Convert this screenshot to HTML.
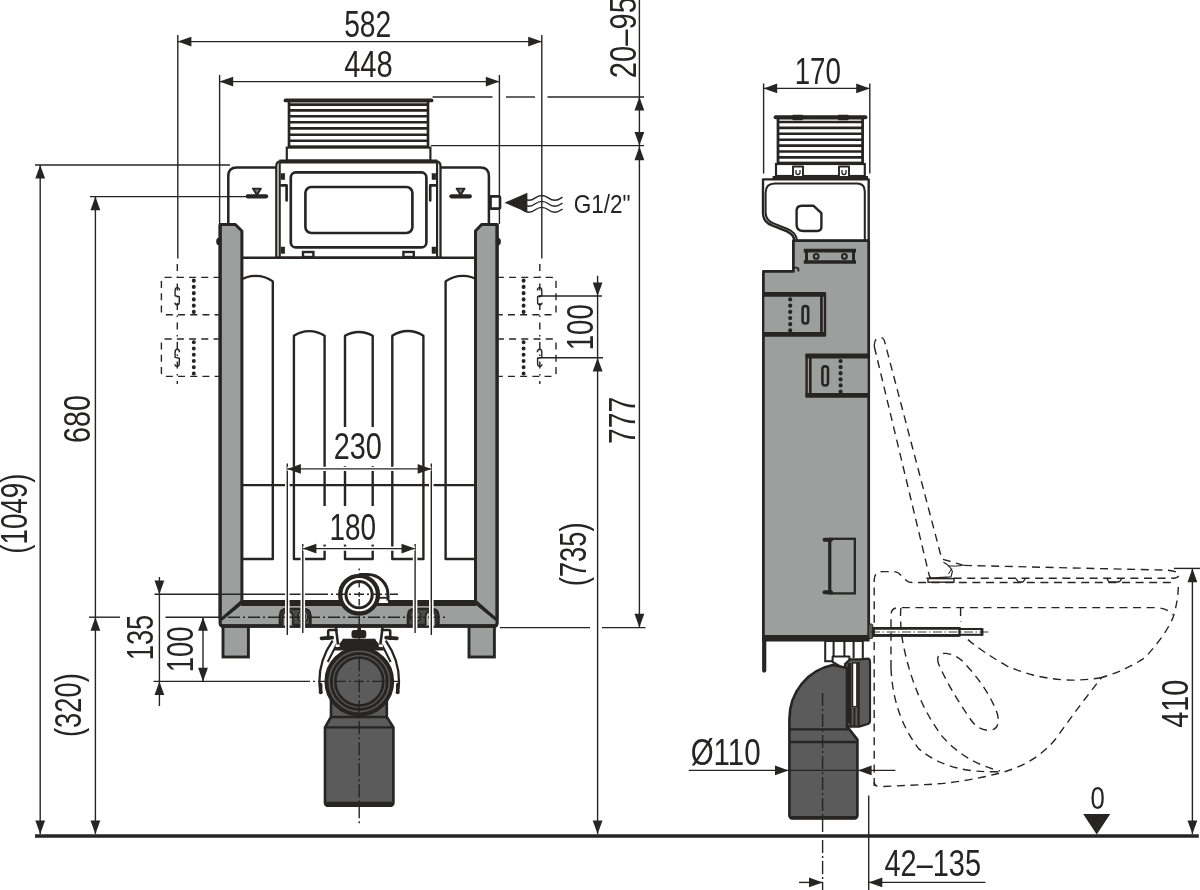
<!DOCTYPE html>
<html><head><meta charset="utf-8"><title>Drawing</title>
<style>
html,body{margin:0;padding:0;background:#fff;}
svg{display:block;will-change:transform;}
text{font-family:"Liberation Sans",sans-serif;}
</style></head><body>
<svg width="1200" height="890" viewBox="0 0 1200 890">
<rect x="0" y="0" width="1200" height="890" fill="#fff"/>
<line x1="35.0" y1="836.1" x2="1198.8" y2="836.1" stroke="#262524" stroke-width="3.50"/>
<g id="front">
<rect x="289.0" y="101.0" width="139.0" height="46.0" fill="#fff" stroke="#262524" stroke-width="2.64"/>
<line x1="289.0" y1="104.6" x2="428.0" y2="104.6" stroke="#262524" stroke-width="2.58"/>
<line x1="289.0" y1="110.4" x2="428.0" y2="110.4" stroke="#262524" stroke-width="2.58"/>
<line x1="289.0" y1="116.3" x2="428.0" y2="116.3" stroke="#262524" stroke-width="2.58"/>
<line x1="289.0" y1="122.2" x2="428.0" y2="122.2" stroke="#262524" stroke-width="2.58"/>
<line x1="289.0" y1="128.4" x2="428.0" y2="128.4" stroke="#262524" stroke-width="2.58"/>
<line x1="289.0" y1="134.8" x2="428.0" y2="134.8" stroke="#262524" stroke-width="2.58"/>
<line x1="289.0" y1="140.8" x2="428.0" y2="140.8" stroke="#262524" stroke-width="2.58"/>
<line x1="289.0" y1="146.8" x2="428.0" y2="146.8" stroke="#262524" stroke-width="2.58"/>
<line x1="285.5" y1="100.4" x2="431.5" y2="100.4" stroke="#262524" stroke-width="3.84" stroke-linecap="round"/>
<rect x="286.8" y="147.6" width="143.6" height="13.0" fill="#fff" stroke="#262524" stroke-width="2.16"/>
<path d="M228.3,225 V176 Q228.3,167.5 236.8,167.5 H480.4 Q488.9,167.5 488.9,176 V225" fill="none" stroke="#262524" stroke-width="2.52" stroke-linejoin="round" />
<path d="M276.3,257.6 V166 Q276.3,161.4 281,161.4 H435.8 Q440.5,161.4 440.5,166 V257.6 Z" fill="#fff" stroke="#262524" stroke-width="2.28" stroke-linejoin="round" />
<line x1="279.4" y1="161.4" x2="437.4" y2="161.4" stroke="#262524" stroke-width="3.96"/>
<line x1="279.7" y1="163.0" x2="279.7" y2="257.0" stroke="#262524" stroke-width="2.16"/>
<line x1="437.1" y1="163.0" x2="437.1" y2="257.0" stroke="#262524" stroke-width="2.16"/>
<rect x="290.8" y="172.4" width="135.6" height="75.0" fill="#fff" stroke="#262524" stroke-width="2.64" rx="5.0"/>
<rect x="305.4" y="187.0" width="107.0" height="46.0" fill="#fff" stroke="#262524" stroke-width="2.64" rx="6.0"/>
<rect x="281.0" y="173.6" width="3.8" height="6.0" fill="#262524" stroke="#262524" stroke-width="0.50"/>
<rect x="281.0" y="247.0" width="3.8" height="6.4" fill="#262524" stroke="#262524" stroke-width="0.50"/>
<rect x="432.0" y="173.6" width="3.8" height="6.0" fill="#262524" stroke="#262524" stroke-width="0.50"/>
<rect x="432.0" y="247.0" width="3.8" height="6.4" fill="#262524" stroke="#262524" stroke-width="0.50"/>
<path d="M281.4,185.4 H286.6 V200.4" fill="none" stroke="#262524" stroke-width="2.64" stroke-linejoin="round" stroke-linecap="round"/>
<path d="M435.4,185.4 H430.2 V200.4" fill="none" stroke="#262524" stroke-width="2.64" stroke-linejoin="round" stroke-linecap="round"/>
<rect x="303.0" y="252.0" width="10.4" height="5.0" fill="#fff" stroke="#262524" stroke-width="2.40"/>
<rect x="403.4" y="252.0" width="10.4" height="5.0" fill="#fff" stroke="#262524" stroke-width="2.40"/>
<line x1="242.0" y1="257.8" x2="475.4" y2="257.8" stroke="#262524" stroke-width="2.64"/>
<line x1="247.7" y1="196.3" x2="266.1" y2="196.3" stroke="#262524" stroke-width="4.20" stroke-linecap="round"/>
<path d="M252.9,188.6 H260.9 L256.9,195 Z" fill="#777" stroke="#262524" stroke-width="1.92" stroke-linejoin="round" />
<line x1="451.4" y1="196.3" x2="469.8" y2="196.3" stroke="#262524" stroke-width="4.20" stroke-linecap="round"/>
<path d="M456.6,188.6 H464.6 L460.6,195 Z" fill="#777" stroke="#262524" stroke-width="1.92" stroke-linejoin="round" />
<path d="M490.6,196.4 H498.6 Q500,196.4 500,197.8 V207.2 Q500,208.6 498.6,208.6 H490.6" fill="#fff" stroke="#262524" stroke-width="2.64" stroke-linejoin="round" />
<line x1="490.4" y1="195.2" x2="490.4" y2="209.8" stroke="#262524" stroke-width="2.88"/>
<path d="M522.3,197.9 Q528.8,202.7 535.3,197.9 T548.3,197.9 T561.3,197.9 l1.2,-0.8" fill="none" stroke="#262524" stroke-width="1.39" stroke-linejoin="round" />
<path d="M522.3,203.8 Q528.8,208.6 535.3,203.8 T548.3,203.8 T561.3,203.8 l1.2,-0.8" fill="none" stroke="#262524" stroke-width="1.39" stroke-linejoin="round" />
<path d="M522.3,209.8 Q528.8,214.6 535.3,209.8 T548.3,209.8 T561.3,209.8 l1.2,-0.8" fill="none" stroke="#262524" stroke-width="1.39" stroke-linejoin="round" />
<polygon fill="#262524" points="504.4,202.7 527.4,192.7 527.4,212.6"/>
<path d="M238.4,281.4 A29.5,29.5 0 0 1 272.8,281.4 V559 H238" fill="none" stroke="#262524" stroke-width="2.40" stroke-linejoin="round" />
<path d="M480,281.4 A29.5,29.5 0 0 0 445.6,281.4 V559 H480" fill="none" stroke="#262524" stroke-width="2.40" stroke-linejoin="round" />
<path d="M293.9,559 V335.8 A27.4,27.4 0 0 1 324.6,335.8 V559 Z" fill="none" stroke="#262524" stroke-width="2.40" stroke-linejoin="round" />
<path d="M345.0,559 V335.8 A27.4,27.4 0 0 1 372.7,335.8 V559 Z" fill="none" stroke="#262524" stroke-width="2.40" stroke-linejoin="round" />
<path d="M392.3,559 V335.8 A27.4,27.4 0 0 1 423.4,335.8 V559 Z" fill="none" stroke="#262524" stroke-width="2.40" stroke-linejoin="round" />
<line x1="242.0" y1="485.1" x2="475.4" y2="485.1" stroke="#262524" stroke-width="2.40"/>
<path d="M220.1,224.5 H235.4 L241.9,231 V601.5 L222.6,618.5 H220.1 Z" fill="#9d9e9e" stroke="#262524" stroke-width="3.00" stroke-linejoin="round" />
<path d="M497.1,224.5 H481.6 L475.5,231 V601.5 L494.8,618.5 H497.1 Z" fill="#9d9e9e" stroke="#262524" stroke-width="3.00" stroke-linejoin="round" />
<ellipse cx="218.8" cy="241.4" rx="2.6" ry="3.7" fill="#262524"/>
<ellipse cx="498.3" cy="241.6" rx="2.6" ry="3.7" fill="#262524"/>
<rect x="223.0" y="626.0" width="25.4" height="31.0" fill="#9d9e9e" stroke="#262524" stroke-width="2.88"/>
<rect x="469.0" y="626.0" width="25.4" height="31.0" fill="#9d9e9e" stroke="#262524" stroke-width="2.88"/>
<path d="M241.9,603 H475.5 L497.1,620.5 V623 Q497.1,626 494.2,626 H223 Q220.1,626 220.1,623 V620.5 Z" fill="#9d9e9e" stroke="#262524" stroke-width="2.40" stroke-linejoin="round" />
<path d="M220.1,224.5 V623 Q220.1,626 223,626 H494.2 Q497.1,626 497.1,623 V224.5" fill="none" stroke="#262524" stroke-width="3.00" stroke-linejoin="round" />
<line x1="241.5" y1="603.0" x2="476.0" y2="603.0" stroke="#262524" stroke-width="6.24"/>
<line x1="221.0" y1="626.0" x2="496.4" y2="626.0" stroke="#262524" stroke-width="3.36"/>
<line x1="241.5" y1="602.5" x2="222.5" y2="618.5" stroke="#262524" stroke-width="2.40"/>
<line x1="476.0" y1="602.5" x2="495.0" y2="618.5" stroke="#262524" stroke-width="2.40"/>
<path d="M280.0,625 V616 Q280.0,609 287.0,609 H303.4 Q310.4,609 310.4,616 V625 Z" fill="#4b4b4a" stroke="#262524" stroke-width="2.64" stroke-linejoin="round" />
<path d="M282.8,625.4 V616.6 Q282.8,611.6 287.8,611.6 Q292.8,611.6 292.8,616.6 V625.4" fill="#b9baba" stroke="#262524" stroke-width="1.80" stroke-linejoin="round" />
<circle cx="302.9" cy="616.6" r="5.0" fill="#b9baba" stroke="#262524" stroke-width="1.92"/>
<circle cx="302.9" cy="616.6" r="2.8" fill="#9d9e9e" stroke="#262524" stroke-width="1.30"/>
<path d="M438.4,625 V616 Q438.4,609 431.4,609 H415.0 Q408.0,609 408.0,616 V625 Z" fill="#4b4b4a" stroke="#262524" stroke-width="2.64" stroke-linejoin="round" />
<path d="M435.6,625.4 V616.6 Q435.6,611.6 430.6,611.6 Q425.6,611.6 425.6,616.6 V625.4" fill="#b9baba" stroke="#262524" stroke-width="1.80" stroke-linejoin="round" />
<circle cx="415.5" cy="616.6" r="5.0" fill="#b9baba" stroke="#262524" stroke-width="1.92"/>
<circle cx="415.5" cy="616.6" r="2.8" fill="#9d9e9e" stroke="#262524" stroke-width="1.30"/>
<path d="M359.1,574.4 H367.7 A20.3,20.3 0 0 1 388,594.7 V603 H372 Z" fill="#fff" stroke="none" stroke-width="0.00" stroke-linejoin="round" />
<path d="M359.1,574.4 H367.7 A20.3,20.3 0 0 1 388,594.7 V601" fill="none" stroke="#262524" stroke-width="3.00" stroke-linejoin="round" />
<line x1="376.0" y1="597.8" x2="387.0" y2="597.8" stroke="#262524" stroke-width="1.80"/>
<line x1="376.0" y1="601.0" x2="388.0" y2="601.0" stroke="#fff" stroke-width="0.80"/>
<circle cx="359.1" cy="594.7" r="18.9" fill="#fff" stroke="#262524" stroke-width="4.32"/>
<circle cx="359.1" cy="594.7" r="13.1" fill="#fff" stroke="#262524" stroke-width="3.00"/>
</g>
<g id="drain">
<path d="M331,690 V717 L325,727.4 V802.6 Q325,805.7 328.2,805.7 H390.2 Q393.4,805.7 393.4,802.6 V727.4 L386.8,717 V690 Z" fill="#5b5b5b" stroke="#262524" stroke-width="2.64" stroke-linejoin="round" />
<line x1="331.0" y1="717.0" x2="386.8" y2="717.0" stroke="#262524" stroke-width="2.40"/>
<line x1="325.0" y1="727.4" x2="393.4" y2="727.4" stroke="#262524" stroke-width="2.40"/>
<line x1="326.4" y1="804.4" x2="392.0" y2="804.4" stroke="#262524" stroke-width="5.16"/>
<path d="M332.6,640.6 Q319.2,660 319.4,681.6 Q319.4,689 322.0,693.4" fill="none" stroke="#262524" stroke-width="2.28" stroke-linejoin="round" />
<path d="M336.8,644 L327.7,662" fill="none" stroke="#262524" stroke-width="2.04" stroke-linejoin="round" />
<path d="M320.6,684.5 V692.5" fill="none" stroke="#262524" stroke-width="3.60" stroke-linejoin="round" stroke-linecap="round"/>
<path d="M385.8,640.6 Q399.2,660 399.0,681.6 Q399.0,689 396.4,693.4" fill="none" stroke="#262524" stroke-width="2.28" stroke-linejoin="round" />
<path d="M381.6,644 L390.7,662" fill="none" stroke="#262524" stroke-width="2.04" stroke-linejoin="round" />
<path d="M397.8,684.5 V692.5" fill="none" stroke="#262524" stroke-width="3.60" stroke-linejoin="round" stroke-linecap="round"/>
<path d="M343,640 H375 L383.6,650 H334.4 Z" fill="#262524" stroke="#262524" stroke-width="1.00" stroke-linejoin="round" />
<circle cx="359.3" cy="681.5" r="32.9" fill="#5b5b5b" stroke="#262524" stroke-width="3.96"/>
<circle cx="359.3" cy="681.5" r="28.0" fill="none" stroke="#262524" stroke-width="2.88"/>
<circle cx="359.3" cy="681.5" r="24.0" fill="#5b5b5b" stroke="#262524" stroke-width="2.64"/>
<rect x="343.4" y="639.6" width="31.2" height="4.4" fill="#262524" stroke="#262524" stroke-width="1.80"/>
<rect x="352.4" y="631.0" width="13.0" height="6.4" fill="#262524" stroke="#262524" stroke-width="1.80" rx="1.8"/>
<line x1="359.2" y1="626.0" x2="359.2" y2="632.0" stroke="#262524" stroke-width="3.60"/>
<path d="M321.6,638.4 L332.2,637.6" fill="none" stroke="#262524" stroke-width="3.84" stroke-linejoin="round" stroke-linecap="round"/>
<path d="M328.2,640 V631.4 Q328.2,630 329.6,630 H337.6" fill="none" stroke="#262524" stroke-width="2.64" stroke-linejoin="round" />
<path d="M335.8,627 L338.6,649" fill="none" stroke="#262524" stroke-width="2.52" stroke-linejoin="round" />
<rect x="335.6" y="644.4" width="4.0" height="2.6" fill="#fff" stroke="none" stroke-width="0.00"/>
<path d="M396.8,638.4 L386.2,637.6" fill="none" stroke="#262524" stroke-width="3.84" stroke-linejoin="round" stroke-linecap="round"/>
<path d="M390.2,640 V631.4 Q390.2,630 388.8,630 H380.8" fill="none" stroke="#262524" stroke-width="2.64" stroke-linejoin="round" />
<path d="M382.6,627 L379.8,649" fill="none" stroke="#262524" stroke-width="2.52" stroke-linejoin="round" />
<rect x="378.8" y="644.4" width="4.0" height="2.6" fill="#fff" stroke="none" stroke-width="0.00"/>
</g>
<line x1="359.2" y1="568.6" x2="359.2" y2="570.2" stroke="#262524" stroke-width="1.40"/>
<line x1="359.2" y1="580.5" x2="359.2" y2="616.2" stroke="#262524" stroke-width="1.40" stroke-dasharray="7,4.6,4.6,2.4,6.4,5.8,1.6,3.2"/>
<line x1="359.2" y1="616.2" x2="359.2" y2="826.0" stroke="#262524" stroke-width="1.40" stroke-dasharray="13,3,2,3"/>
<line x1="154.5" y1="594.2" x2="318.0" y2="594.2" stroke="#262524" stroke-width="1.40"/>
<line x1="318.0" y1="594.2" x2="398.0" y2="594.2" stroke="#262524" stroke-width="1.40" stroke-dasharray="10,3,2,3"/>
<line x1="165.5" y1="617.2" x2="220.0" y2="617.2" stroke="#262524" stroke-width="1.40"/>
<line x1="228.0" y1="617.2" x2="445.0" y2="617.2" stroke="#262524" stroke-width="1.40" stroke-dasharray="12,3,2,3"/>
<line x1="153.5" y1="681.4" x2="300.0" y2="681.4" stroke="#262524" stroke-width="1.40"/>
<line x1="300.0" y1="681.4" x2="402.0" y2="681.4" stroke="#262524" stroke-width="1.40" stroke-dasharray="10,3,2,3"/>
<path d="M218.8,277.4 H165.4 Q161.4,277.4 161.4,281.4 V310.8 Q161.4,314.8 165.4,314.8 H218.8" fill="none" stroke="#262524" stroke-width="1.39" stroke-linejoin="round" stroke-dasharray="7,5.2" stroke-dashoffset="1.7"/>
<line x1="193.8" y1="280.6" x2="193.8" y2="312.8" stroke="#262524" stroke-width="3.96" stroke-dasharray="0.1,6.14" stroke-linecap="round"/>
<path d="M179.5,290.6 Q179.5,287.6 177.3,287.6 Q175.1,287.6 175.1,290.6 V295.8 L179.3,296.6 V302.0 Q179.3,304.8 177.3,304.8 Q175.1,304.8 174.9,302.6" fill="none" stroke="#262524" stroke-width="1.39" stroke-linejoin="round" />
<path d="M218.8,339.0 H165.4 Q161.4,339.0 161.4,343.0 V372.4 Q161.4,376.4 165.4,376.4 H218.8" fill="none" stroke="#262524" stroke-width="1.39" stroke-linejoin="round" stroke-dasharray="7,5.2" stroke-dashoffset="1.7"/>
<line x1="193.8" y1="342.2" x2="193.8" y2="374.4" stroke="#262524" stroke-width="3.96" stroke-dasharray="0.1,6.14" stroke-linecap="round"/>
<path d="M179.5,352.2 Q179.5,349.2 177.3,349.2 Q175.1,349.2 175.1,352.2 V357.4 L179.3,358.2 V363.6 Q179.3,366.4 177.3,366.4 Q175.1,366.4 174.9,364.2" fill="none" stroke="#262524" stroke-width="1.39" stroke-linejoin="round" />
<path d="M498.6,277.4 H552.0 Q556.0,277.4 556.0,281.4 V310.8 Q556.0,314.8 552.0,314.8 H498.6" fill="none" stroke="#262524" stroke-width="1.39" stroke-linejoin="round" stroke-dasharray="7,5.2" stroke-dashoffset="1.7"/>
<line x1="523.6" y1="280.6" x2="523.6" y2="312.8" stroke="#262524" stroke-width="3.96" stroke-dasharray="0.1,6.14" stroke-linecap="round"/>
<path d="M537.4,290.6 Q537.4,287.6 539.6,287.6 Q541.8,287.6 541.8,290.6 V295.8 L537.6,296.6 V302.0 Q537.6,304.8 539.6,304.8 Q541.8,304.8 542.0,302.6" fill="none" stroke="#262524" stroke-width="1.39" stroke-linejoin="round" />
<path d="M498.6,339.0 H552.0 Q556.0,339.0 556.0,343.0 V372.4 Q556.0,376.4 552.0,376.4 H498.6" fill="none" stroke="#262524" stroke-width="1.39" stroke-linejoin="round" stroke-dasharray="7,5.2" stroke-dashoffset="1.7"/>
<line x1="523.6" y1="342.2" x2="523.6" y2="374.4" stroke="#262524" stroke-width="3.96" stroke-dasharray="0.1,6.14" stroke-linecap="round"/>
<path d="M537.4,352.2 Q537.4,349.2 539.6,349.2 Q541.8,349.2 541.8,352.2 V357.4 L537.6,358.2 V363.6 Q537.6,366.4 539.6,366.4 Q541.8,366.4 542.0,364.2" fill="none" stroke="#262524" stroke-width="1.39" stroke-linejoin="round" />
<line x1="177.8" y1="35.0" x2="177.8" y2="258.6" stroke="#262524" stroke-width="1.40"/>
<line x1="177.3" y1="264.0" x2="177.3" y2="384.0" stroke="#262524" stroke-width="1.40" stroke-dasharray="7,5.5,1.5,5.5"/>
<line x1="541.8" y1="35.0" x2="541.8" y2="258.6" stroke="#262524" stroke-width="1.40"/>
<line x1="539.8" y1="264.0" x2="539.8" y2="384.0" stroke="#262524" stroke-width="1.40" stroke-dasharray="7,5.5,1.5,5.5"/>
<line x1="177.8" y1="41.6" x2="541.8" y2="41.6" stroke="#262524" stroke-width="1.40"/>
<polygon fill="#262524" points="177.8,41.6 191.4,36.7 191.4,46.5"/>
<polygon fill="#262524" points="541.8,41.6 528.2,36.7 528.2,46.5"/>
<text transform="translate(344.15,36.80)" font-size="36.8" textLength="47.11" lengthAdjust="spacingAndGlyphs" fill="#262524">582</text>
<line x1="219.6" y1="75.0" x2="219.6" y2="224.0" stroke="#262524" stroke-width="1.40"/>
<line x1="499.4" y1="75.0" x2="499.4" y2="196.0" stroke="#262524" stroke-width="1.40"/>
<line x1="499.4" y1="209.4" x2="499.4" y2="224.0" stroke="#262524" stroke-width="1.40"/>
<line x1="219.6" y1="81.6" x2="499.4" y2="81.6" stroke="#262524" stroke-width="1.40"/>
<polygon fill="#262524" points="219.6,81.6 233.2,76.7 233.2,86.5"/>
<polygon fill="#262524" points="499.4,81.6 485.8,76.7 485.8,86.5"/>
<text transform="translate(344.15,76.90)" font-size="36.8" textLength="48.61" lengthAdjust="spacingAndGlyphs" fill="#262524">448</text>
<line x1="432.5" y1="97.0" x2="492.5" y2="97.0" stroke="#262524" stroke-width="1.40"/>
<line x1="506.0" y1="97.0" x2="535.0" y2="97.0" stroke="#262524" stroke-width="1.40"/>
<line x1="547.5" y1="97.0" x2="644.0" y2="97.0" stroke="#262524" stroke-width="1.40"/>
<line x1="431.0" y1="145.6" x2="644.0" y2="145.6" stroke="#262524" stroke-width="1.40"/>
<line x1="639.4" y1="0.0" x2="639.4" y2="627.0" stroke="#262524" stroke-width="1.40"/>
<polygon fill="#262524" points="639.4,97.0 634.5,110.6 644.3,110.6"/>
<polygon fill="#262524" points="639.4,145.6 634.5,132.0 644.3,132.0"/>
<polygon fill="#262524" points="639.4,146.6 634.5,160.2 644.3,160.2"/>
<polygon fill="#262524" points="639.4,627.4 634.5,613.8 644.3,613.8"/>
<text transform="translate(635.80,78.15) rotate(-90)" font-size="36.8" textLength="81.19" lengthAdjust="spacingAndGlyphs" fill="#262524">20–95</text>
<text transform="translate(635.00,443.95) rotate(-90)" font-size="36.8" textLength="47.21" lengthAdjust="spacingAndGlyphs" fill="#262524">777</text>
<line x1="500.0" y1="627.6" x2="590.0" y2="627.6" stroke="#262524" stroke-width="1.40"/>
<line x1="602.0" y1="627.6" x2="645.5" y2="627.6" stroke="#262524" stroke-width="1.40"/>
<line x1="597.6" y1="275.8" x2="597.6" y2="834.0" stroke="#262524" stroke-width="1.40"/>
<polygon fill="#262524" points="597.6,296.0 592.7,282.4 602.5,282.4"/>
<polygon fill="#262524" points="597.6,357.8 592.7,371.4 602.5,371.4"/>
<polygon fill="#262524" points="597.6,834.0 592.7,820.4 602.5,820.4"/>
<line x1="538.4" y1="296.0" x2="602.0" y2="296.0" stroke="#262524" stroke-width="1.40"/>
<line x1="538.4" y1="357.8" x2="603.0" y2="357.8" stroke="#262524" stroke-width="1.40"/>
<text transform="translate(593.00,350.35) rotate(-90)" font-size="36.8" textLength="46.21" lengthAdjust="spacingAndGlyphs" fill="#262524">100</text>
<text transform="translate(586.20,586.35) rotate(-90)" font-size="36.8" textLength="64.09" lengthAdjust="spacingAndGlyphs" fill="#262524">(735)</text>
<text transform="translate(573.65,212.60)" font-size="25.7" textLength="56.90" lengthAdjust="spacingAndGlyphs" fill="#262524">G1/2"</text>
<line x1="35.0" y1="165.0" x2="230.0" y2="165.0" stroke="#262524" stroke-width="1.40"/>
<line x1="40.2" y1="165.0" x2="40.2" y2="834.0" stroke="#262524" stroke-width="1.40"/>
<polygon fill="#262524" points="40.2,165.0 35.3,178.6 45.1,178.6"/>
<polygon fill="#262524" points="40.2,834.0 35.3,820.4 45.1,820.4"/>
<text transform="translate(27.40,553.85) rotate(-90)" font-size="36.8" textLength="80.39" lengthAdjust="spacingAndGlyphs" fill="#262524">(1049)</text>
<line x1="90.0" y1="196.6" x2="248.0" y2="196.6" stroke="#262524" stroke-width="1.40"/>
<line x1="95.4" y1="196.6" x2="95.4" y2="834.0" stroke="#262524" stroke-width="1.40"/>
<polygon fill="#262524" points="95.4,196.6 90.5,210.2 100.3,210.2"/>
<polygon fill="#262524" points="95.4,617.2 90.5,630.8 100.3,630.8"/>
<polygon fill="#262524" points="95.4,834.0 90.5,820.4 100.3,820.4"/>
<line x1="89.0" y1="617.2" x2="120.0" y2="617.2" stroke="#262524" stroke-width="1.40"/>
<text transform="translate(89.70,443.05) rotate(-90)" font-size="36.8" textLength="47.91" lengthAdjust="spacingAndGlyphs" fill="#262524">680</text>
<text transform="translate(80.80,737.05) rotate(-90)" font-size="36.8" textLength="63.79" lengthAdjust="spacingAndGlyphs" fill="#262524">(320)</text>
<line x1="159.4" y1="577.0" x2="159.4" y2="706.0" stroke="#262524" stroke-width="1.40"/>
<polygon fill="#262524" points="159.4,594.2 154.5,580.6 164.3,580.6"/>
<polygon fill="#262524" points="159.4,681.4 154.5,695.0 164.3,695.0"/>
<line x1="203.0" y1="617.2" x2="203.0" y2="681.4" stroke="#262524" stroke-width="1.40"/>
<polygon fill="#262524" points="203.0,617.2 198.1,630.8 207.9,630.8"/>
<polygon fill="#262524" points="203.0,681.4 198.1,667.8 207.9,667.8"/>
<text transform="translate(152.60,660.35) rotate(-90)" font-size="36.8" textLength="45.71" lengthAdjust="spacingAndGlyphs" fill="#262524">135</text>
<text transform="translate(193.00,672.15) rotate(-90)" font-size="36.8" textLength="45.71" lengthAdjust="spacingAndGlyphs" fill="#262524">100</text>
<line x1="287.3" y1="463.6" x2="287.3" y2="635.0" stroke="#fff" stroke-width="4.56"/>
<line x1="287.3" y1="463.6" x2="287.3" y2="635.0" stroke="#262524" stroke-width="1.40"/>
<line x1="431.3" y1="463.6" x2="431.3" y2="635.0" stroke="#fff" stroke-width="4.56"/>
<line x1="431.3" y1="463.6" x2="431.3" y2="635.0" stroke="#262524" stroke-width="1.40"/>
<line x1="302.8" y1="544.0" x2="302.8" y2="633.0" stroke="#fff" stroke-width="4.56"/>
<line x1="302.8" y1="544.0" x2="302.8" y2="633.0" stroke="#262524" stroke-width="1.40"/>
<line x1="415.1" y1="544.0" x2="415.1" y2="633.0" stroke="#fff" stroke-width="4.56"/>
<line x1="415.1" y1="544.0" x2="415.1" y2="633.0" stroke="#262524" stroke-width="1.40"/>
<rect x="328.0" y="427.0" width="59.0" height="39.0" fill="#fff" stroke="none" stroke-width="0.00"/>
<rect x="321.0" y="506.0" width="62.0" height="38.6" fill="#fff" stroke="none" stroke-width="0.00"/>
<line x1="287.3" y1="468.9" x2="431.3" y2="468.9" stroke="#fff" stroke-width="4.32"/>
<line x1="287.3" y1="468.9" x2="431.3" y2="468.9" stroke="#262524" stroke-width="1.40"/>
<polygon fill="#262524" points="287.3,468.9 300.9,464.0 300.9,473.8"/>
<polygon fill="#262524" points="431.3,468.9 417.7,464.0 417.7,473.8"/>
<line x1="302.8" y1="548.6" x2="415.1" y2="548.6" stroke="#fff" stroke-width="4.32"/>
<line x1="302.8" y1="548.6" x2="415.1" y2="548.6" stroke="#262524" stroke-width="1.40"/>
<polygon fill="#262524" points="302.8,548.6 316.4,543.7 316.4,553.5"/>
<polygon fill="#262524" points="415.1,548.6 401.5,543.7 401.5,553.5"/>
<text transform="translate(333.75,458.70)" font-size="36.8" textLength="48.11" lengthAdjust="spacingAndGlyphs" fill="#262524">230</text>
<text transform="translate(329.45,540.30)" font-size="36.8" textLength="46.61" lengthAdjust="spacingAndGlyphs" fill="#262524">180</text>
<g id="side">
<rect x="778.0" y="118.0" width="84.6" height="45.0" fill="#fff" stroke="#262524" stroke-width="2.76"/>
<line x1="778.0" y1="122.0" x2="862.6" y2="122.0" stroke="#262524" stroke-width="2.58"/>
<line x1="778.0" y1="127.9" x2="862.6" y2="127.9" stroke="#262524" stroke-width="2.58"/>
<line x1="778.0" y1="133.8" x2="862.6" y2="133.8" stroke="#262524" stroke-width="2.58"/>
<line x1="778.0" y1="139.7" x2="862.6" y2="139.7" stroke="#262524" stroke-width="2.58"/>
<line x1="778.0" y1="145.6" x2="862.6" y2="145.6" stroke="#262524" stroke-width="2.58"/>
<line x1="778.0" y1="151.5" x2="862.6" y2="151.5" stroke="#262524" stroke-width="2.58"/>
<line x1="778.0" y1="157.4" x2="862.6" y2="157.4" stroke="#262524" stroke-width="2.58"/>
<line x1="778.0" y1="163.3" x2="862.6" y2="163.3" stroke="#262524" stroke-width="2.58"/>
<line x1="775.6" y1="117.2" x2="865.4" y2="117.2" stroke="#262524" stroke-width="3.96" stroke-linecap="round"/>
<rect x="792.5" y="115.0" width="10.5" height="5.0" fill="#262524" stroke="#262524" stroke-width="0.50" rx="1.0"/>
<rect x="838.0" y="115.0" width="10.5" height="5.0" fill="#262524" stroke="#262524" stroke-width="0.50" rx="1.0"/>
<rect x="776.0" y="164.0" width="88.8" height="12.0" fill="#fff" stroke="#262524" stroke-width="2.16"/>
<path d="M793.0,176 V166.5 H803.0 V176" fill="#fff" stroke="#262524" stroke-width="1.92" stroke-linejoin="round" />
<path d="M796.0,170 v2.5 q0,2 2,2 q2,0 2,-2 v-2.5" fill="none" stroke="#262524" stroke-width="1.30" stroke-linejoin="round" />
<path d="M839.0,176 V166.5 H849.0 V176" fill="#fff" stroke="#262524" stroke-width="1.92" stroke-linejoin="round" />
<path d="M842.0,170 v2.5 q0,2 2,2 q2,0 2,-2 v-2.5" fill="none" stroke="#262524" stroke-width="1.30" stroke-linejoin="round" />
<path d="M763,179.4 H868.7 V241 H794.4 Q794,234.6 787,231.4 L772,225.4 Q763,222 763,213 Z" fill="#fff" stroke="#262524" stroke-width="2.40" stroke-linejoin="round" />
<line x1="772.6" y1="177.7" x2="868.0" y2="177.7" stroke="#262524" stroke-width="3.60"/>
<path d="M864.8,241 V191.4 Q864.8,183.6 857,183.6 H775 Q765.6,183.6 765.6,193 V212.6 Q765.8,220.4 773.6,223.4 L788,229.2 Q796.4,232.6 797,241" fill="none" stroke="#262524" stroke-width="2.04" stroke-linejoin="round" />
<path d="M801.8,205.8 H813.6 L821.4,213.2 V226.8 Q821.4,231 817.2,231 H803.4 Q796.6,231 796.6,224.4 V210.8 Q796.6,205.8 801.8,205.8 Z" fill="#fff" stroke="#262524" stroke-width="2.40" stroke-linejoin="round" />
<path d="M793.4,240.6 H868.7 V637 H763.4 V271.4 H793.4 Z" fill="#9d9e9e" stroke="#262524" stroke-width="2.76" stroke-linejoin="round" />
<path d="M793.4,267.6 h3 q2,0 2,2 v1.8" fill="none" stroke="#262524" stroke-width="1.92" stroke-linejoin="round" />
<rect x="806.5" y="250.6" width="47.0" height="11.4" fill="#9d9e9e" stroke="#262524" stroke-width="1.92"/>
<line x1="803.8" y1="250.6" x2="856.0" y2="250.6" stroke="#262524" stroke-width="3.60"/>
<line x1="803.8" y1="262.0" x2="856.0" y2="262.0" stroke="#262524" stroke-width="3.60"/>
<line x1="806.5" y1="249.5" x2="806.5" y2="263.0" stroke="#262524" stroke-width="2.88"/>
<line x1="853.5" y1="249.5" x2="853.5" y2="263.0" stroke="#262524" stroke-width="2.88"/>
<circle cx="816.2" cy="256.4" r="2.4" fill="#9d9e9e" stroke="#262524" stroke-width="2.04"/>
<circle cx="844.4" cy="256.4" r="2.4" fill="#9d9e9e" stroke="#262524" stroke-width="2.04"/>
<rect x="763.4" y="294.0" width="58.0" height="40.6" fill="#9d9e9e" stroke="#262524" stroke-width="1.92"/>
<line x1="763.4" y1="294.4" x2="825.8" y2="294.4" stroke="#262524" stroke-width="4.92"/>
<line x1="763.4" y1="334.4" x2="825.8" y2="334.4" stroke="#262524" stroke-width="4.92"/>
<line x1="821.4" y1="294.0" x2="821.4" y2="335.0" stroke="#262524" stroke-width="2.40"/>
<line x1="825.0" y1="293.0" x2="825.0" y2="336.0" stroke="#262524" stroke-width="2.40"/>
<line x1="790.2" y1="299.4" x2="790.2" y2="331.0" stroke="#262524" stroke-width="4.20" stroke-dasharray="0.1,6.1" stroke-linecap="round"/>
<rect x="802.6" y="306.0" width="5.6" height="17.6" fill="#9d9e9e" stroke="#262524" stroke-width="2.52" rx="2.8"/>
<rect x="810.0" y="356.0" width="58.6" height="40.0" fill="#9d9e9e" stroke="#262524" stroke-width="1.92"/>
<line x1="805.6" y1="356.0" x2="868.7" y2="356.0" stroke="#262524" stroke-width="4.92"/>
<line x1="805.6" y1="395.4" x2="868.7" y2="395.4" stroke="#262524" stroke-width="4.92"/>
<line x1="806.6" y1="354.4" x2="806.6" y2="397.0" stroke="#262524" stroke-width="2.40"/>
<line x1="810.4" y1="355.0" x2="810.4" y2="396.0" stroke="#262524" stroke-width="2.40"/>
<line x1="840.6" y1="361.0" x2="840.6" y2="392.0" stroke="#262524" stroke-width="4.20" stroke-dasharray="0.1,6.0" stroke-linecap="round"/>
<rect x="822.4" y="366.2" width="5.6" height="19.4" fill="#9d9e9e" stroke="#262524" stroke-width="2.52" rx="2.8"/>
<rect x="829.8" y="538.8" width="25.0" height="54.6" fill="#9d9e9e" stroke="#262524" stroke-width="2.28"/>
<line x1="829.8" y1="538.0" x2="829.8" y2="594.2" stroke="#262524" stroke-width="3.12"/>
<line x1="824.6" y1="539.7" x2="831.0" y2="539.7" stroke="#262524" stroke-width="4.08" stroke-linecap="round"/>
<line x1="824.6" y1="592.3" x2="831.0" y2="592.3" stroke="#262524" stroke-width="4.08" stroke-linecap="round"/>
<line x1="762.0" y1="638.3" x2="869.6" y2="638.3" stroke="#262524" stroke-width="6.36"/>
<line x1="764.2" y1="640.0" x2="764.2" y2="670.6" stroke="#262524" stroke-width="4.20" stroke-linecap="round"/>
</g>
<rect x="868.6" y="624.0" width="4.2" height="14.6" fill="#5b5b5b" stroke="#262524" stroke-width="1.00" rx="1.5"/>
<rect x="873.0" y="628.0" width="86.6" height="7.6" fill="#fff" stroke="#262524" stroke-width="2.04"/>
<rect x="959.6" y="629.0" width="22.4" height="5.8" fill="#fff" stroke="#262524" stroke-width="2.04"/>
<line x1="873.0" y1="628.4" x2="959.6" y2="628.4" stroke="#262524" stroke-width="2.64"/>
<line x1="873.0" y1="635.4" x2="959.6" y2="635.4" stroke="#262524" stroke-width="2.64"/>
<line x1="982.0" y1="628.4" x2="982.0" y2="635.6" stroke="#262524" stroke-width="2.88"/>
<line x1="871.0" y1="632.0" x2="990.0" y2="632.0" stroke="#262524" stroke-width="0.90" stroke-dasharray="9,2.5,1.5,2.5"/>
<rect x="825.2" y="641.0" width="37.6" height="20.2" fill="#fff" stroke="#262524" stroke-width="2.04"/>
<line x1="833.6" y1="641.0" x2="833.6" y2="658.0" stroke="#262524" stroke-width="2.04"/>
<line x1="844.4" y1="641.0" x2="844.4" y2="658.0" stroke="#262524" stroke-width="2.04"/>
<line x1="853.6" y1="641.0" x2="853.6" y2="658.0" stroke="#262524" stroke-width="2.04"/>
<path d="M832.6,656.4 H849.4 V667.2 L841.6,667.2 L832.6,662 Z" fill="#fff" stroke="#262524" stroke-width="2.04" stroke-linejoin="round" />
<path d="M845,664 L850,659.4 H860 L868,658.6 Q870,658.8 870,662 V721 Q870,723.6 867,724.2 L859,726.6 H845 Z" fill="#5b5b5b" stroke="#262524" stroke-width="2.16" stroke-linejoin="round" />
<line x1="849.4" y1="663.0" x2="849.4" y2="723.0" stroke="#262524" stroke-width="3.60"/>
<rect x="852.6" y="663.0" width="4.2" height="43.6" fill="#fff" stroke="#262524" stroke-width="1.30"/>
<line x1="850.6" y1="708.0" x2="850.6" y2="726.0" stroke="#262524" stroke-width="1.92"/>
<line x1="854.4" y1="708.0" x2="854.4" y2="726.0" stroke="#262524" stroke-width="1.92"/>
<line x1="858.6" y1="662.0" x2="858.6" y2="726.0" stroke="#262524" stroke-width="2.28"/>
<path d="M789.4,815 V719 C789.4,692 808,670 832.6,665 L847,668 V726.4 L857.4,739.6 V815 Q857.4,818.4 854,818.4 H792.8 Q789.4,818.4 789.4,815 Z" fill="#5b5b5b" stroke="#262524" stroke-width="2.64" stroke-linejoin="round" />
<line x1="789.4" y1="729.4" x2="848.0" y2="729.4" stroke="#262524" stroke-width="2.40"/>
<line x1="789.4" y1="742.0" x2="857.4" y2="742.0" stroke="#262524" stroke-width="2.40"/>
<line x1="790.6" y1="817.6" x2="855.8" y2="817.6" stroke="#262524" stroke-width="3.12"/>
<line x1="822.6" y1="693.0" x2="822.6" y2="890.0" stroke="#262524" stroke-width="1.40" stroke-dasharray="13,3,2,3"/>
<line x1="868.7" y1="795.5" x2="868.7" y2="890.0" stroke="#262524" stroke-width="1.40"/>
<path d="M874.4,347 Q873.6,338.4 880,337.4 Q884,337.4 885,343 L941.8,559 L964,565.4" fill="none" stroke="#262524" stroke-width="1.39" stroke-linejoin="round" stroke-dasharray="8,5.6" />
<path d="M874.4,347 L929.2,575.4 L931,578.6" fill="none" stroke="#262524" stroke-width="1.39" stroke-linejoin="round" stroke-dasharray="8,5.6" />
<path d="M964,565.4 L1168,570.2 Q1179.6,571.4 1178.8,575.4 Q1178,578.3 1171,578.3 H925" fill="none" stroke="#262524" stroke-width="1.39" stroke-linejoin="round" stroke-dasharray="8,5.6" />
<path d="M874.2,786 V580 Q874.2,571.6 883,571.6 H893 Q898,571.6 901,575.4 L907,581 Q908.6,582.5 912,582.5 H1176" fill="none" stroke="#262524" stroke-width="1.39" stroke-linejoin="round" stroke-dasharray="8,5.6" />
<path d="M1178.3,587 Q1178,601 1173.3,616.7 Q1166,635 1145,657.5 Q1127,670 1101.7,677.5 Q1079,706 1055.6,739 Q1035,764 1000,773 Q962,783 925,784.6 L881,786.6 Q874.2,787 874.2,782" fill="none" stroke="#262524" stroke-width="1.39" stroke-linejoin="round" stroke-dasharray="8,5.6" />
<path d="M891,668 V615 Q891,607.6 899,607.6 H1157 Q1168,608.6 1172.6,615" fill="none" stroke="#262524" stroke-width="1.39" stroke-linejoin="round" stroke-dasharray="8,5.6" />
<path d="M1101.7,677.5 Q1084,680.6 1066.7,680 Q1048,679 1033,675 Q1018,671 1006.7,665.8 Q984,653 967.6,639.4" fill="none" stroke="#262524" stroke-width="1.39" stroke-linejoin="round" stroke-dasharray="8,5.6" />
<path d="M891,668 Q893,715 918.6,748.6 Q948,774 1000,771.6" fill="none" stroke="#262524" stroke-width="1.39" stroke-linejoin="round" stroke-dasharray="8,5.6" />
<path d="M900.8,608 Q899.6,628 904,648 Q915,700 941.6,735.6 Q964,762 1000,771" fill="none" stroke="#262524" stroke-width="1.39" stroke-linejoin="round" stroke-dasharray="8,5.6" />
<path d="M960.6,608 V622" fill="none" stroke="#262524" stroke-width="1.39" stroke-linejoin="round" stroke-dasharray="8,5.6" />
<path d="M938.6,664 Q935,653 946,653.4 Q958,654.6 967,666 Q989,690 997.4,714 Q1001,729.6 989,730.4 Q978,730 971,720 Q950,690 938.6,664 Z" fill="none" stroke="#262524" stroke-width="1.39" stroke-linejoin="round" stroke-dasharray="8,5.6" />
<path d="M929,578.2 L951,576.8 L952.4,571.4 Q950,565.4 943.4,562.2" fill="none" stroke="#262524" stroke-width="1.20" stroke-linejoin="round" />
<rect x="928.0" y="578.6" width="26.0" height="3.6" fill="none" stroke="#262524" stroke-width="1.40"/>
<path d="M948,566 Q956,566.4 962,565.6 M952,568.4 L948.4,574" fill="none" stroke="#262524" stroke-width="1.00" stroke-linejoin="round" />
<path d="M1016,578.6 l2.4,3.4 h4.6 l2.4,-3.4 M1107,578.6 l2,3.4 h9 q3,-0.6 3.4,-3.4" fill="none" stroke="#262524" stroke-width="1.30" stroke-linejoin="round" />
<line x1="763.6" y1="83.4" x2="763.6" y2="173.6" stroke="#262524" stroke-width="1.40"/>
<line x1="869.8" y1="83.4" x2="869.8" y2="173.6" stroke="#262524" stroke-width="1.40"/>
<line x1="763.6" y1="88.4" x2="869.8" y2="88.4" stroke="#262524" stroke-width="1.40"/>
<polygon fill="#262524" points="763.6,88.4 777.2,83.5 777.2,93.3"/>
<polygon fill="#262524" points="869.8,88.4 856.2,83.5 856.2,93.3"/>
<text transform="translate(794.65,84.00)" font-size="36.8" textLength="46.21" lengthAdjust="spacingAndGlyphs" fill="#262524">170</text>
<line x1="688.8" y1="770.4" x2="895.4" y2="770.4" stroke="#262524" stroke-width="1.40"/>
<polygon fill="#262524" points="788.6,770.4 775.0,765.5 775.0,775.3"/>
<polygon fill="#262524" points="858.0,770.4 871.6,765.5 871.6,775.3"/>
<text transform="translate(690.65,765.00)" font-size="36.8" textLength="69.90" lengthAdjust="spacingAndGlyphs" fill="#262524">Ø110</text>
<line x1="799.0" y1="882.4" x2="822.6" y2="882.4" stroke="#262524" stroke-width="1.40"/>
<line x1="868.7" y1="882.4" x2="985.4" y2="882.4" stroke="#262524" stroke-width="1.40"/>
<polygon fill="#262524" points="822.6,882.4 809.0,877.5 809.0,887.3"/>
<polygon fill="#262524" points="868.7,882.4 882.3,877.5 882.3,887.3"/>
<text transform="translate(884.45,875.50)" font-size="36.8" textLength="96.60" lengthAdjust="spacingAndGlyphs" fill="#262524">42–135</text>
<text transform="translate(1090.45,809.00)" font-size="31.8" textLength="14.30" lengthAdjust="spacingAndGlyphs" fill="#262524">0</text>
<polygon fill="#262524" points="1083.2,814 1110.2,814 1096.7,834.4"/>
<line x1="1174.0" y1="568.4" x2="1200.0" y2="568.4" stroke="#262524" stroke-width="1.40"/>
<line x1="1192.4" y1="568.4" x2="1192.4" y2="834.0" stroke="#262524" stroke-width="1.40"/>
<polygon fill="#262524" points="1192.4,568.6 1187.5,582.2 1197.3,582.2"/>
<polygon fill="#262524" points="1192.4,834.0 1187.5,820.4 1197.3,820.4"/>
<text transform="translate(1187.60,727.75) rotate(-90)" font-size="36.8" textLength="48.01" lengthAdjust="spacingAndGlyphs" fill="#262524">410</text>
</svg>
</body></html>
